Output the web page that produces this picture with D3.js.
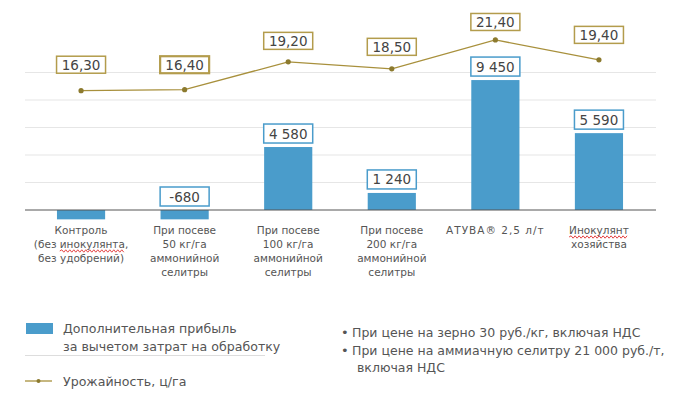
<!DOCTYPE html>
<html>
<head>
<meta charset="utf-8">
<script src="https://cdn.jsdelivr.net/npm/d3@7"></script>
<style>
  body { margin: 0; background: #fff; }
  svg text { font-family: "DejaVu Sans", Verdana, sans-serif; fill: #555; }
</style>
</head>
<body>
<div id="chart"></div>
<script>
// categories (line breaks as in the picture)
var categories = [
    ["Контроль", "(без инокулянта,", "без удобрений)"],
    ["При посеве", "50 кг/га", "аммонийной", "селитры"],
    ["При посеве", "100 кг/га", "аммонийной", "селитры"],
    ["При посеве", "200 кг/га", "аммонийной", "селитры"],
    ["АТУВА® 2,5 л/т"],
    ["Инокулянт", "хозяйства"]
];
// extra profit, rub/ha (control has no label)
var profit = [-680, -680, 4580, 1240, 9450, 5590];
var profitLabels = [null, "-680", "4 580", "1 240", "9 450", "5 590"];
// yield, c/ha
var yieldVals = [16.3, 16.4, 19.2, 18.5, 21.4, 19.4];
var yieldLabels = ["16,30", "16,40", "19,20", "18,50", "21,40", "19,40"];
var gridTicks = [0, 2000, 4000, 6000, 8000, 10000];

var width = 695, height = 400;
var blue = "#4a9ccb", gold = "#a8903c", goldBox = "#b39c4c";

var svg = d3.select("#chart").append("svg")
    .attr("width", width)
    .attr("height", height);

var x = d3.scaleBand()
    .domain(d3.range(categories.length))
    .range([29, 651])
    .paddingInner(0.535)
    .paddingOuter(0.27);

var y = d3.scaleLinear().domain([0, 10000]).range([210, 72.5]);
var y2 = d3.scaleLinear().domain([16, 22]).range([93.7, 34]);

// grid
svg.selectAll("line.grid")
    .data(gridTicks.slice(1))
    .enter().append("line")
    .attr("x1", 25).attr("x2", 656)
    .attr("y1", function(d){ return y(d); })
    .attr("y2", function(d){ return y(d); })
    .attr("stroke", "#e6e6e6")
    .attr("stroke-width", 1.2);

// bars
svg.selectAll("rect.bar")
    .data(profit)
    .enter().append("rect")
    .attr("x", function(d, i){ return x(i); })
    .attr("width", x.bandwidth())
    .attr("y", function(d){ return y(Math.max(0, d)); })
    .attr("height", function(d){ return Math.abs(y(d) - y(0)); })
    .attr("fill", blue);

// zero axis
svg.append("line")
    .attr("x1", 25).attr("x2", 656)
    .attr("y1", y(0)).attr("y2", y(0))
    .attr("stroke", "#555").attr("stroke-width", 1);

// profit labels
var bw = 49, bh = 19;
profit.forEach(function(d, i){
    if (!profitLabels[i]) return;
    var cx = x(i) + x.bandwidth()/2;
    var top = y(Math.max(0, d)) - 4 - bh;
    var g = svg.append("g");
    g.append("rect")
        .attr("x", cx - bw/2).attr("y", top)
        .attr("width", bw).attr("height", bh)
        .attr("fill", "#fff").attr("stroke", blue).attr("stroke-width", 1.5);
    g.append("text")
        .attr("x", cx).attr("y", top + bh/2 + 5)
        .attr("text-anchor", "middle")
        .style("font-size", "13.5px")
        .style("fill", "#444")
        .text(profitLabels[i]);
});

// yield line
var line = d3.line()
    .x(function(d, i){ return x(i) + x.bandwidth()/2; })
    .y(function(d){ return y2(d); });

svg.append("path")
    .datum(yieldVals)
    .attr("d", line)
    .attr("fill", "none")
    .attr("stroke", gold)
    .attr("stroke-width", 1.3);

svg.selectAll("circle.pt")
    .data(yieldVals)
    .enter().append("circle")
    .attr("cx", function(d, i){ return x(i) + x.bandwidth()/2; })
    .attr("cy", function(d){ return y2(d); })
    .attr("r", 2.6)
    .attr("fill", "#8c7a2e");

// yield labels (vertical gap above each point, hand placed in the original)
var labelGap = [26, 25, 21, 22, 18, 25];
yieldVals.forEach(function(d, i){
    var cx = x(i) + x.bandwidth()/2;
    var cy = y2(d) - labelGap[i];
    svg.append("rect")
        .attr("x", cx - 24.5).attr("y", cy - 8.5)
        .attr("width", 49).attr("height", 17)
        .attr("fill", "#fff")
        .attr("stroke", goldBox)
        .attr("stroke-width", i == 1 ? 2.2 : 1.5);
    svg.append("text")
        .attr("x", cx).attr("y", cy + 5)
        .attr("text-anchor", "middle")
        .style("font-size", "13.5px")
        .style("fill", "#444")
        .text(yieldLabels[i]);
});

// wavy red spell-check underline, as seen in the original
function squiggle(x0, x1, yy) {
    var p = d3.path(), step = 2, up = true;
    p.moveTo(x0, yy);
    for (var xx = x0 + step; xx <= x1; xx += step) {
        p.lineTo(xx, yy + (up ? -1.2 : 1.2));
        up = !up;
    }
    svg.append("path").attr("d", p.toString())
        .attr("fill", "none").attr("stroke", "#e03030").attr("stroke-width", 0.9);
}

// category labels
categories.forEach(function(lines, i){
    var cx = x(i) + x.bandwidth()/2;
    lines.forEach(function(s, j){
        var t = svg.append("text")
            .attr("x", cx)
            .attr("y", 234 + j * 14)
            .attr("text-anchor", "middle")
            .style("font-size", "10.5px")
            .style("fill", "#555")
            .style("letter-spacing", i == 4 ? "1px" : null)
            .text(s);
        var m = s.search(/[иИ]нокулянт/);
        if (m >= 0) {
            var len = s.match(/[иИ]нокулянт[а]?/)[0].length;
            var node = t.node();
            var a = node.getStartPositionOfChar(m).x;
            var b = node.getEndPositionOfChar(m + len - 1).x;
            squiggle(a, b, 234 + j * 14 + 3);
        }
    });
});

// legend
svg.append("rect")
    .attr("x", 26).attr("y", 323)
    .attr("width", 27).attr("height", 11)
    .attr("fill", blue);
svg.append("text").attr("x", 63).attr("y", 333)
    .style("font-size", "12.6px").text("Дополнительная прибыль");
svg.append("text").attr("x", 63).attr("y", 351)
    .style("font-size", "12.6px").text("за вычетом затрат на обработку");
svg.append("line")
    .attr("x1", 25).attr("x2", 265)
    .attr("y1", 355.5).attr("y2", 355.5)
    .attr("stroke", "#ddd");
svg.append("line")
    .attr("x1", 25).attr("x2", 52)
    .attr("y1", 381).attr("y2", 381)
    .attr("stroke", gold).attr("stroke-width", 1.3);
svg.append("circle")
    .attr("cx", 38.5).attr("cy", 381).attr("r", 2)
    .attr("fill", "#8c7a2e");
svg.append("text").attr("x", 63).attr("y", 386)
    .style("font-size", "12.6px").text("Урожайность, ц/га");

// notes
var notes = [
    ["При цене на зерно 30 руб./кг, включая НДС"],
    ["При цене на аммиачную селитру 21 000 руб./т,", "включая НДС"]
];
var ny = 337;
notes.forEach(function(n){
    svg.append("text").attr("x", 341).attr("y", ny)
        .style("font-size", "13px").text("•");
    n.forEach(function(s, j){
        svg.append("text").attr("x", j == 0 ? 352 : 357).attr("y", ny)
            .style("font-size", "12.5px").text(s);
        ny += 17.5;
    });
});
</script>
</body>
</html>
